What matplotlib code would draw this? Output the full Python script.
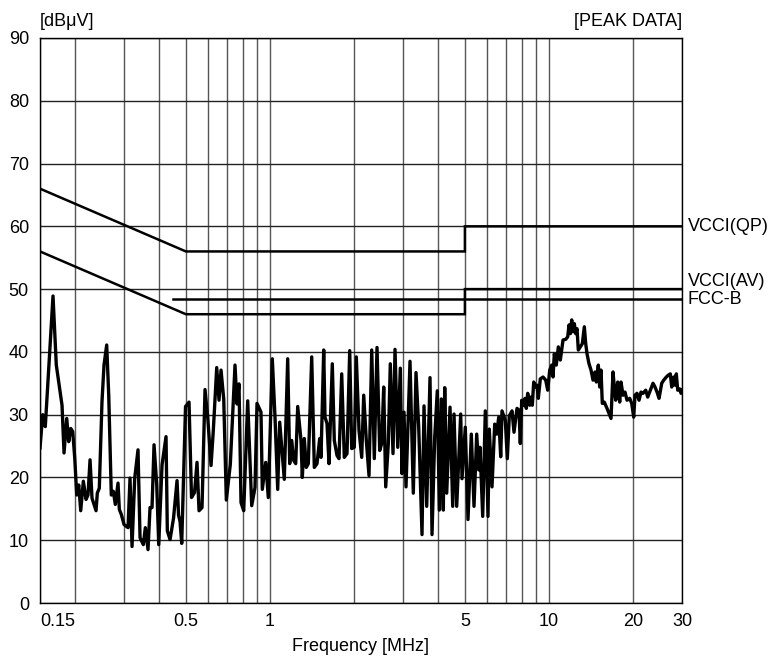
#Conducted emission plot (peak data) with VCCI / FCC limit lines

#Libraries
import numpy as np
import matplotlib
matplotlib.use("Agg")
import matplotlib.pyplot as plt

plt.rcParams['font.family'] = ['Liberation Sans', 'DejaVu Sans']

freq_150k_440k = [0.150, 0.1534, 0.1567, 0.1670, 0.1716, 0.1799, 0.1829, 0.1870, 0.1901, 0.1933,
                  0.1965, 0.1998, 0.2031, 0.2065, 0.2099, 0.2145, 0.2193, 0.2229, 0.2267, 0.2304,
                  0.2382, 0.2407, 0.2447, 0.2502, 0.2544, 0.2601, 0.2645, 0.2702, 0.2747, 0.2793,
                  0.2856, 0.2887, 0.2935, 0.3001, 0.3102, 0.3153, 0.3206, 0.3278, 0.3368, 0.3425,
                  0.3519, 0.3578, 0.3658, 0.3719, 0.3781, 0.3844, 0.3931, 0.3996, 0.4107, 0.4244,
                  0.4290, 0.4387]
level_150k_440k = [24.7, 30.0, 28.1, 48.9, 37.9, 31.5, 23.9, 29.4, 25.7, 27.8,
                   27.3, 23.1, 17.2, 18.8, 14.7, 19.4, 16.5, 17.2, 22.8, 16.7,
                   14.7, 17.5, 18.3, 32.1, 37.9, 41.1, 33.1, 17.2, 17.8, 15.7,
                   19.1, 14.9, 14.1, 12.5, 12.0, 19.9, 9.0, 19.9, 24.4, 10.4,
                   9.3, 12.0, 8.5, 15.2, 15.2, 25.2, 18.8, 9.3, 22.0, 26.5,
                   11.5, 10.1]

freq_450k_1m1 = [0.4515, 0.4648, 0.4706, 0.4764, 0.4831, 0.4985, 0.5131, 0.5238, 0.5370, 0.5481,
                 0.5573, 0.5712, 0.5855, 0.5987, 0.6153, 0.6270, 0.6449, 0.6573, 0.6682, 0.6833,
                 0.6981, 0.7215, 0.7499, 0.7624, 0.7751, 0.7880, 0.8058, 0.8328, 0.8608, 0.8845,
                 0.8992, 0.9294, 0.9394, 0.9662, 0.9871, 1.0202, 1.0432, 1.0667, 1.0844, 1.1264]
level_450k_1m1 = [13.5, 19.5, 14.0, 13.0, 9.5, 31.3, 32.0, 16.8, 17.6, 22.4,
                  14.7, 15.2, 34.0, 29.6, 21.9, 27.5, 37.5, 32.3, 37.1, 32.5,
                  16.4, 22.1, 37.9, 31.7, 34.9, 16.0, 14.7, 32.2, 15.5, 18.4,
                  31.8, 30.4, 18.1, 22.4, 16.8, 38.9, 29.6, 18.1, 28.8, 19.7]

freq_1m1_2m9 = [1.1585, 1.1778, 1.1974, 1.2173, 1.2376, 1.2582, 1.2792, 1.2930, 1.3069, 1.3287,
                1.3508, 1.3733, 1.4124, 1.4430, 1.4754, 1.5087, 1.5249, 1.5593, 1.5760, 1.6023,
                1.6290, 1.6740, 1.7019, 1.7402, 1.7691, 1.8090, 1.8482, 1.8899, 1.9325, 1.9646,
                2.0072, 2.0406, 2.0867, 2.1338, 2.1693, 2.2163, 2.2662, 2.3174, 2.3676, 2.4210,
                2.4755, 2.5167, 2.5586, 2.6012, 2.6576, 2.7018, 2.7627, 2.8088, 2.8721, 2.9343]
level_1m1_2m9 = [38.9, 22.2, 25.9, 22.7, 22.2, 31.3, 28.0, 25.9, 20.0, 26.2,
                 21.6, 22.2, 39.2, 21.6, 22.2, 26.2, 23.2, 40.3, 29.6, 28.6,
                 22.2, 38.1, 25.9, 23.5, 23.0, 36.5, 23.2, 23.8, 40.2, 24.6,
                 24.8, 39.2, 27.5, 23.2, 33.1, 25.9, 20.3, 40.3, 23.0, 40.7,
                 24.3, 25.4, 34.4, 18.5, 25.4, 38.1, 23.8, 40.4, 24.8, 37.4]

freq_3m_7m5 = [2.9757, 3.0252, 3.0756, 3.1788, 3.2666, 3.3402, 3.4155, 3.5097, 3.5682, 3.6485,
               3.7493, 3.8117, 3.8975, 3.9819, 4.0482, 4.1157, 4.1843, 4.2329, 4.3034, 4.4222,
               4.5218, 4.5705, 4.6734, 4.8302, 4.8824, 5.0169, 5.1300, 5.2718, 5.3906, 5.5121,
               5.6037, 5.6642, 5.7918, 5.9174, 6.0507, 6.1160, 6.2538, 6.3947, 6.5010, 6.6093,
               6.7194, 6.7919, 6.9795, 7.0958, 7.2138, 7.3763, 7.4991]
level_3m_7m5 = [20.6, 30.4, 18.5, 38.5, 17.5, 36.7, 28.0, 10.9, 31.4, 15.4,
                35.9, 10.9, 26.4, 33.8, 14.8, 32.5, 14.8, 34.3, 17.5, 31.2,
                15.4, 30.1, 15.4, 30.1, 19.8, 28.0, 13.3, 26.9, 15.4, 26.9,
                21.2, 24.8, 13.8, 30.6, 13.8, 27.7, 18.5, 28.5, 26.9, 29.6,
                23.3, 30.6, 29.1, 23.0, 29.8, 30.6, 27.2]

freq_7m7_30m = [7.6872, 7.8152, 7.8996, 7.9913, 8.1243, 8.2119, 8.3006, 8.3970, 8.5368, 8.6288,
                8.7218, 8.8232, 8.9700, 9.0669, 9.1647, 9.3173, 9.5271, 9.7418, 9.9041, 10.069,
                10.237, 10.347, 10.459, 10.633, 10.810, 10.990, 11.237, 11.491, 11.682, 11.808,
                11.936, 12.074, 12.205, 12.336, 12.480, 12.614, 12.750, 12.963, 13.179, 13.398,
                13.554, 13.700, 13.928, 14.160, 14.395, 14.635, 14.793, 15.037, 15.211, 15.375,
                15.541, 15.800, 16.155, 16.698, 16.976, 17.159, 17.358, 17.647, 17.941, 18.134,
                18.436, 18.743, 19.055, 19.485, 19.810, 20.139, 20.357, 20.696, 21.041, 21.392,
                21.748, 22.238, 22.608, 23.099, 23.618, 24.012, 24.412, 24.819, 25.377, 25.800,
                26.359, 26.798, 27.244, 27.561, 28.020, 28.322, 28.628, 28.960, 29.442, 29.760,
                30.0]
level_7m7_30m = [31.0, 30.7, 25.4, 32.3, 31.5, 32.6, 31.0, 33.4, 31.5, 32.8,
                 31.5, 35.2, 34.4, 34.7, 32.6, 35.7, 36.0, 35.5, 33.9, 37.1,
                 37.9, 36.0, 39.7, 37.9, 40.8, 38.7, 41.9, 42.0, 42.4, 44.3,
                 42.9, 45.1, 43.2, 44.5, 42.9, 43.7, 40.3, 40.8, 41.3, 44.0,
                 41.3, 39.7, 38.1, 37.1, 35.5, 36.8, 35.2, 37.9, 34.4, 37.1,
                 31.8, 32.0, 31.0, 29.4, 36.8, 34.4, 32.3, 35.2, 32.0, 35.2,
                 33.1, 33.6, 32.3, 32.6, 31.8, 29.6, 33.1, 33.4, 32.3, 33.6,
                 33.4, 33.9, 32.8, 33.9, 35.0, 34.4, 33.6, 32.6, 35.0, 35.5,
                 36.0, 36.3, 36.5, 34.4, 36.0, 34.7, 36.5, 33.9, 34.1, 33.4,
                 33.9]

#Limit lines (corner frequencies MHz, dBuV)
vcci_qp_f = [0.15, 0.5, 5, 5, 30]
vcci_qp_v = [66, 56, 56, 60, 60]
vcci_av_f = [0.15, 0.5, 5, 5, 30]
vcci_av_v = [56, 46, 46, 50, 50]
fcc_b_f = [0.45, 30]
fcc_b_v = [48.5, 48.5]

#Axis config
xtick_vals = [0.15, 0.5, 1, 5, 10, 20, 30]
xtick_labels = ['0.15', '0.5', '1', '5', '10', '20', '30']
xgrid_vals = [0.2, 0.3, 0.4, 0.6, 0.7, 0.8, 0.9, 2, 3, 4, 6, 7, 8, 9]

FS = 13


def main():
    freq = np.concatenate([freq_150k_440k, freq_450k_1m1, freq_1m1_2m9, freq_3m_7m5, freq_7m7_30m])
    level = np.concatenate([level_150k_440k, level_450k_1m1, level_1m1_2m9, level_3m_7m5, level_7m7_30m])

    fig = plt.figure(figsize=(7.73, 6.57), dpi=100)
    ax = fig.add_axes([40 / 773, 1 - 603 / 657, 642 / 773, 565 / 657])

    ax.set_xscale('log')
    ax.set_xlim(0.15, 30)
    ax.set_ylim(0, 90)

    # grid
    ax.set_xticks(xtick_vals)
    ax.set_xticklabels(xtick_labels)
    ax.set_xticks(xgrid_vals, minor=True)
    ax.xaxis.set_minor_formatter(plt.NullFormatter())
    ax.set_yticks(range(0, 91, 10))
    ax.grid(True, which='both', axis='x', color='#555555', lw=1.0)
    ax.grid(True, which='major', axis='y', color='#222222', lw=1.0)
    ax.set_axisbelow(True)
    ax.tick_params(which='both', length=0, labelsize=FS)
    ax.tick_params(axis='y', pad=8)
    ax.tick_params(axis='x', pad=7)
    ax.get_xticklabels()[0].set_horizontalalignment('left')
    for sp in ax.spines.values():
        sp.set_color('black')
        sp.set_linewidth(1.0)

    # limits
    ax.plot(vcci_qp_f, vcci_qp_v, color='black', lw=1.8, solid_joinstyle='miter')
    ax.plot(vcci_av_f, vcci_av_v, color='black', lw=1.8, solid_joinstyle='miter')
    ax.plot(fcc_b_f, fcc_b_v, color='black', lw=1.8)

    # measured trace
    ax.plot(freq, level, color='black', lw=2.4)

    # labels
    lab_tf = ax.get_yaxis_transform()
    ax.text(1.009, 60, 'VCCI(QP)', transform=lab_tf, fontsize=FS, va='center', ha='left')
    ax.text(1.009, 51.2, 'VCCI(AV)', transform=lab_tf, fontsize=FS, va='center', ha='left')
    ax.text(1.009, 48.3, 'FCC-B', transform=lab_tf, fontsize=FS, va='center', ha='left')

    ax.text(0.0, 1.015, '[dBμV]', transform=ax.transAxes, fontsize=FS, ha='left', va='bottom')
    ax.text(1.0, 1.015, '[PEAK DATA]', transform=ax.transAxes, fontsize=FS, ha='right', va='bottom')
    ax.set_xlabel('Frequency [MHz]', fontsize=FS, labelpad=6)

    fig.savefig('out.png', dpi=100)
    plt.close(fig)


if __name__ == "__main__":
    main()
